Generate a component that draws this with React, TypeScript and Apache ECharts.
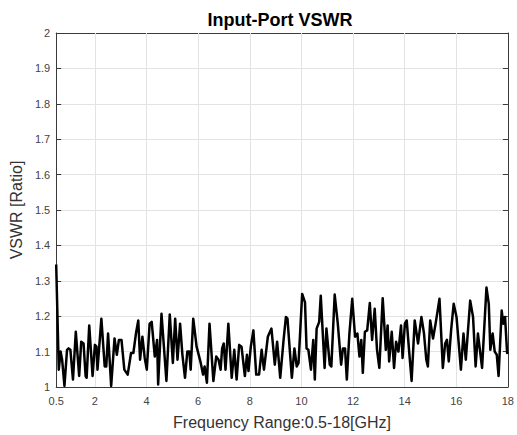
import React, { useEffect, useRef } from "react";
import * as echarts from "echarts";

const freqGHz: number[] = [
  0.5, 0.6, 0.67, 0.73, 0.82, 0.92, 0.98, 1.05, 1.15, 1.26, 1.39, 1.47, 1.56, 1.64, 1.68, 1.78, 1.91, 2.0, 2.06, 2.1,
  2.25, 2.38, 2.44, 2.51, 2.63, 2.76, 2.85, 2.93, 3.03, 3.14, 3.27, 3.4, 3.49, 3.59, 3.68, 3.75, 3.84, 3.93, 4.01, 4.12,
  4.2, 4.32, 4.41, 4.45, 4.58, 4.77, 4.9, 5.02, 5.11, 5.2, 5.3, 5.39, 5.49, 5.58, 5.66, 5.71, 5.81, 5.94,
  6.1, 6.19, 6.25, 6.34, 6.44, 6.59, 6.7, 6.79, 6.87, 6.93, 6.99, 7.06, 7.17, 7.3, 7.4, 7.49, 7.59, 7.68, 7.81, 7.89,
  7.95, 8.04, 8.14, 8.25, 8.36, 8.46, 8.55, 8.7, 8.84, 8.97, 9.06, 9.18, 9.31, 9.4, 9.46, 9.63, 9.73, 9.82, 9.89, 10.03,
  10.14, 10.2, 10.27, 10.37, 10.46, 10.52, 10.59, 10.69, 10.75, 10.9, 10.97, 11.1, 11.16, 11.29, 11.41, 11.54, 11.61,
  11.69, 11.76, 11.86,
  11.97, 12.08, 12.17, 12.25, 12.32, 12.38, 12.46, 12.55, 12.65, 12.74, 12.84, 12.93, 13.02, 13.15, 13.27, 13.34, 13.4,
  13.5, 13.59, 13.67, 13.76, 13.86, 13.92, 14.01, 14.08, 14.17, 14.27, 14.39, 14.52, 14.65, 14.75, 14.84, 14.9, 14.99,
  15.1, 15.2, 15.35, 15.48, 15.57, 15.64, 15.71, 15.8, 15.9, 16.01, 16.18, 16.28, 16.37, 16.54, 16.65, 16.75, 16.84,
  17.0, 17.17, 17.26, 17.32, 17.41, 17.49, 17.57, 17.64, 17.76, 17.82, 17.89, 17.97, 18.0,
];

const vswr: number[] = [
  1.346, 1.049, 1.1, 1.077, 1.003, 1.105, 1.109, 1.105, 1.021, 1.156, 1.031, 1.128, 1.123, 1.031, 1.026, 1.174, 1.031, 1.119, 1.114, 1.049,
  1.193, 1.058, 1.058, 1.151, 1.003, 1.137, 1.091, 1.133, 1.133, 1.049, 1.035, 1.096, 1.096, 1.151, 1.188, 1.077, 1.142, 1.082, 1.049, 1.179,
  1.184, 1.086, 1.133, 1.007, 1.207, 1.017, 1.205, 1.068, 1.193, 1.077, 1.179, 1.091, 1.026, 1.1, 1.1, 1.049, 1.193, 1.114,
  1.068, 1.035, 1.058, 1.012, 1.179, 1.017, 1.086, 1.077, 1.049, 1.109, 1.123, 1.049, 1.179, 1.026, 1.105, 1.021, 1.119, 1.114, 1.031, 1.091,
  1.045, 1.114, 1.16, 1.035, 1.035, 1.105, 1.049, 1.142, 1.165, 1.063, 1.128, 1.026, 1.133, 1.198, 1.193, 1.026, 1.109, 1.058, 1.068, 1.263,
  1.239, 1.109, 1.105, 1.049, 1.133, 1.021, 1.165, 1.184, 1.258, 1.054, 1.165, 1.063, 1.058, 1.261, 1.179, 1.063, 1.109,
  1.109, 1.021, 1.151,
  1.249, 1.142, 1.151, 1.086, 1.133, 1.04, 1.156, 1.16, 1.237, 1.133, 1.221, 1.105, 1.054, 1.251, 1.105, 1.174, 1.072,
  1.156, 1.054, 1.128, 1.1, 1.174, 1.082, 1.179, 1.188, 1.105, 1.017, 1.188, 1.123, 1.198, 1.151, 1.077, 1.058, 1.188,
  1.137, 1.179, 1.249, 1.054, 1.123, 1.133, 1.072, 1.16, 1.235, 1.198, 1.049, 1.151, 1.077, 1.244, 1.198, 1.058, 1.151,
  1.054, 1.281, 1.235, 1.105, 1.151, 1.1, 1.091, 1.031, 1.216, 1.179, 1.198, 1.096, 1.1,
];

const xTickValues: number[] = [0.5, 2, 4, 6, 8, 10, 12, 14, 16, 18];
const xGridValues: number[] = [2, 4, 6, 8, 10, 12, 14, 16];

const titleText = "Input-Port VSWR";
const xLabelText = "Frequency Range:0.5-18[GHz]";
const yLabelText = "VSWR [Ratio]";

export default function App() {
  const ref = useRef<HTMLDivElement>(null);
  useEffect(() => {
    document.body.style.margin = "0";
    const chart = echarts.init(ref.current!, null, { renderer: "svg" });
    const font = "Liberation Sans, Arial, sans-serif";
    const axisColor = "#3a3a3a";
    const labelColor = "#444";
    const gridColor = "#e3e3e3";
    const seriesData = freqGHz.map((f, i) => [f, vswr[i]]);
    chart.setOption({
      animation: false,
      backgroundColor: "#fff",
      graphic: [
        {
          type: "text",
          x: 280,
          y: 20,
          style: {
            text: titleText,
            fontFamily: font,
            fontSize: 18,
            fontWeight: "bold",
            fill: "#000",
            align: "center",
            verticalAlign: "middle",
          },
        },
      ],
      grid: { left: 52, right: 6, top: 33, bottom: 42, containLabel: false },
      xAxis: [
        {
          type: "value",
          min: 0.5,
          max: 18,
          name: xLabelText,
          nameLocation: "middle",
          nameGap: 27,
          nameTextStyle: { fontFamily: font, fontSize: 16, color: "#333" },
          axisLine: { onZero: false, lineStyle: { color: axisColor, width: 1 } },
          axisTick: { inside: true, length: 5, customValues: xTickValues, lineStyle: { color: axisColor } },
          axisLabel: { customValues: xTickValues, fontFamily: font, fontSize: 11, color: labelColor, margin: 8 },
          splitLine: { show: false },
        },
        {
          type: "value",
          position: "top",
          min: 0.5,
          max: 18,
          axisLine: { onZero: false, lineStyle: { color: axisColor, width: 1 } },
          axisTick: { inside: true, length: 5, customValues: xTickValues, lineStyle: { color: axisColor } },
          axisLabel: { show: false },
          splitLine: { show: false },
        },
      ],
      yAxis: [
        {
          type: "value",
          min: 1,
          max: 2,
          interval: 0.1,
          name: yLabelText,
          nameLocation: "middle",
          nameGap: 30,
          nameTextStyle: { fontFamily: font, fontSize: 16, color: "#333" },
          axisLine: { show: true, onZero: false, lineStyle: { color: axisColor, width: 1 } },
          axisTick: { show: true, inside: true, length: 5, lineStyle: { color: axisColor } },
          axisLabel: {
            fontFamily: font,
            fontSize: 11,
            color: labelColor,
            margin: 6,
            formatter: (v: number) => String(Math.round(v * 10) / 10),
          },
          splitLine: { show: true, lineStyle: { color: gridColor, width: 1 } },
        },
        {
          type: "value",
          position: "right",
          min: 1,
          max: 2,
          interval: 0.1,
          axisLine: { show: true, onZero: false, lineStyle: { color: axisColor, width: 1 } },
          axisTick: { show: true, inside: true, length: 5, lineStyle: { color: axisColor } },
          axisLabel: { show: false },
          splitLine: { show: false },
        },
      ],
      series: [
        {
          type: "line",
          data: seriesData,
          showSymbol: false,
          symbol: "none",
          lineStyle: { color: "#000", width: 2.5, join: "round" },
          z: 3,
          markLine: {
            silent: true,
            symbol: "none",
            label: { show: false },
            lineStyle: { color: gridColor, width: 1, type: "solid" },
            data: xGridValues.map((v) => ({ xAxis: v })),
            z: 1,
          },
        },
      ],
    });
    return () => chart.dispose();
  }, []);
  return <div ref={ref} style={{ position: "absolute", left: 0, top: 0, width: 517, height: 435 }} />;
}
